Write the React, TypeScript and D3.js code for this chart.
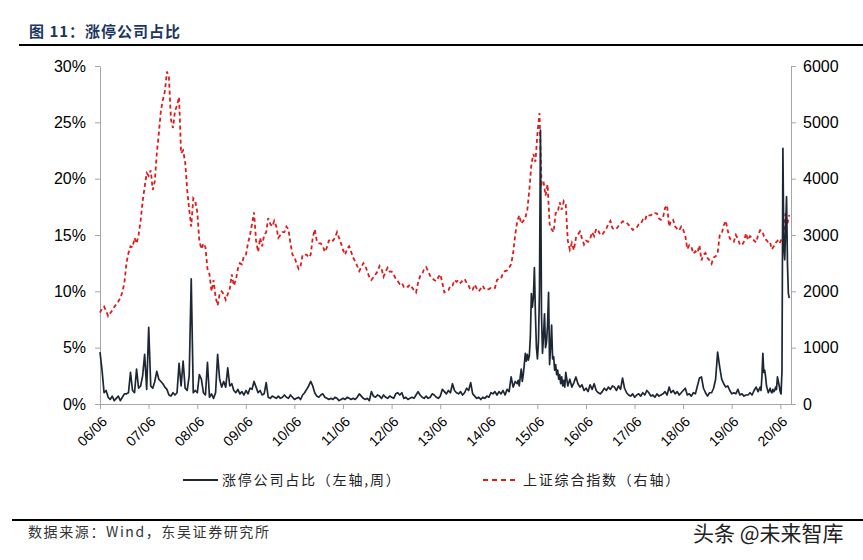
import React, { useEffect, useRef } from 'react'
import * as d3 from 'd3'

// last observation (week of 2020-08-07)
const DATA_END = new Date(2020, 7, 7)

const years = [2006, 2007, 2008, 2009, 2010, 2011, 2012, 2013, 2014, 2015, 2016, 2017, 2018, 2019, 2020]

// 涨停公司占比 (%), one row per year, spread evenly over that year
const limitUpRatio: number[][] = [
  [4.6, 3.0, 1.0, 1.2, 0.6, 0.4, 0.7, 0.3, 0.5, 0.7, 0.3, 0.6, 0.9, 0.9],
  [1.0, 2.8, 1.2, 1.0, 3.1, 1.4, 1.6, 2.5, 4.4, 1.3, 6.8, 1.6, 1.4, 2.0, 2.9, 2.2, 2.0, 1.8, 1.5, 1.3, 0.8, 0.7, 1.0, 0.8],
  [1.0, 3.6, 1.6, 3.8, 1.4, 1.2, 2.5, 11.1, 1.0, 1.2, 1.0, 2.6, 2.2, 1.0, 0.8, 3.7, 0.6, 0.9, 0.5, 1.0, 4.4, 2.2, 1.5, 2.0],
  [1.5, 3.2, 1.6, 1.8, 1.2, 1.0, 1.3, 0.9, 1.1, 0.8, 1.2, 0.9, 1.4, 1.3, 2.0, 1.5, 1.0, 1.2, 0.8, 0.9, 1.9, 0.6, 0.5, 0.7],
  [0.6, 0.5, 0.7, 0.5, 0.6, 0.8, 0.6, 0.5, 0.8, 0.6, 0.4, 0.5, 0.6, 0.4, 0.8, 1.0, 1.3, 1.6, 2.0, 1.6, 1.0, 0.7, 0.6, 0.8],
  [0.9, 0.6, 0.5, 0.4, 0.5, 0.4, 0.6, 0.5, 0.3, 0.4, 0.5, 0.4, 0.6, 0.5, 0.4, 0.5, 0.4, 0.6, 0.9, 0.7, 0.5, 0.4, 0.5, 0.3],
  [1.1, 0.7, 0.6, 0.8, 0.7, 0.5, 0.8, 0.6, 0.5, 0.7, 0.6, 0.5, 0.9, 1.0, 0.8, 1.0, 0.5, 0.6, 0.4, 0.5, 0.6, 0.5, 0.8, 1.1],
  [0.8, 0.6, 0.5, 0.7, 0.5, 0.6, 0.9, 0.8, 0.6, 0.5, 0.7, 1.3, 1.1, 0.9, 1.2, 1.0, 1.8, 1.2, 1.0, 0.9, 1.1, 0.8, 1.0, 1.4],
  [1.2, 1.9, 0.9, 0.7, 0.5, 0.6, 0.4, 0.6, 0.5, 0.7, 0.6, 1.0, 0.9, 1.1, 0.8, 1.1, 0.9, 1.2, 0.8, 1.3, 1.1, 2.4, 1.5, 2.0],
  [1.8, 2.1, 1.6, 2.4, 3.1, 2.0, 2.6, 3.5, 4.5, 3.8, 4.4, 3.9, 4.3, 6.0, 9.8, 8.6, 9.5, 12.1, 8.0, 5.0, 4.0, 5.5, 10.0, 24.3,
    8.0, 4.5, 6.0, 8.0, 5.0, 5.5, 7.0, 9.9, 3.5, 5.0, 7.0, 4.0, 4.2, 3.0, 3.5, 2.6, 3.0, 2.2, 2.6, 1.8, 2.4, 1.6, 2.1, 1.5],
  [2.8, 1.6, 2.2, 1.5, 1.9, 2.4, 1.8, 1.5, 1.7, 1.2, 1.4, 1.1, 1.7, 1.3, 1.8, 1.2, 1.0, 0.9, 1.1, 1.4, 1.2, 1.5, 1.3, 1.6],
  [1.5, 1.2, 1.6, 1.3, 2.3, 1.4, 1.0, 0.8, 0.7, 0.9, 0.6, 0.8, 0.9, 0.7, 1.0, 0.8, 1.2, 1.0, 0.7, 0.8, 0.6, 0.9, 0.7, 0.8],
  [0.9, 1.1, 0.8, 1.5, 1.0, 1.2, 0.9, 1.1, 0.8, 1.0, 1.2, 1.4, 0.8, 0.9, 0.7, 1.0, 0.9, 1.6, 2.3, 2.4, 1.4, 1.0, 0.7, 1.0],
  [1.0, 1.4, 2.2, 4.6, 3.3, 2.2, 1.8, 1.5, 1.6, 1.2, 0.9, 1.0, 0.9, 1.3, 0.8, 0.9, 0.7, 0.8, 0.8, 1.0, 0.8, 1.2, 1.5, 1.1],
  [1.5, 1.2, 2.5, 4.5, 2.8, 3.0, 2.4, 1.6, 1.3, 1.0, 1.2, 1.4, 1.1, 1.0, 1.3, 1.1, 1.2, 1.5, 1.3, 2.4, 2.0, 1.6, 1.1, 0.9,
    3.0, 22.7, 14.0, 12.8, 15.5, 18.4, 12.5, 9.8, 9.4],
]

// 上证综合指数, roughly twice a month
const shIndex: number[][] = [
  [1620, 1700, 1730, 1650, 1560, 1610, 1660, 1720, 1770, 1820, 1880, 1990, 2150, 2500],
  [2680, 2800, 2780, 2950, 2850, 3000, 3250, 3600, 3850, 4100, 4050, 4150, 3800, 3950, 4450, 4800, 5200, 5400, 5550, 5900, 5800, 5050, 4900, 5200],
  [5300, 5450, 4450, 4500, 4300, 3800, 3450, 3150, 3650, 3600, 3400, 2900, 2750, 2850, 2780, 2400, 2300, 2000, 2200, 1900, 1750, 1950, 2000, 1950],
  [1850, 1950, 2050, 2300, 2100, 2200, 2400, 2500, 2480, 2630, 2650, 2850, 3000, 3200, 3400, 2900, 2700, 2950, 2800, 3000, 3050, 3300, 3200, 3150],
  [3250, 3150, 2950, 3000, 3050, 3050, 3150, 3100, 2850, 2650, 2600, 2500, 2400, 2450, 2650, 2650, 2650, 2600, 2650, 2950, 3100, 2900, 2850, 2850],
  [2800, 2700, 2780, 2900, 2930, 2900, 2950, 3050, 2950, 2850, 2730, 2650, 2760, 2800, 2700, 2600, 2530, 2450, 2360, 2430, 2500, 2450, 2350, 2250],
  [2200, 2250, 2300, 2350, 2450, 2400, 2260, 2350, 2420, 2350, 2350, 2300, 2220, 2180, 2130, 2150, 2080, 2100, 2080, 2120, 2070, 2020, 1980, 2150],
  [2270, 2300, 2400, 2430, 2360, 2270, 2230, 2200, 2180, 2250, 2300, 2150, 1980, 2000, 2020, 2100, 2100, 2200, 2170, 2200, 2150, 2190, 2220, 2150],
  [2100, 2020, 2030, 2120, 2050, 2000, 2050, 2100, 2030, 2030, 2040, 2060, 2050, 2060, 2200, 2230, 2230, 2320, 2360, 2370, 2420, 2480, 2680, 3000],
  [3235, 3350, 3200, 3250, 3300, 3450, 3800, 4250, 4440, 4300, 4800, 5166, 3900, 3950, 3700, 3900, 3200, 3100, 3050, 3390, 3400, 3580, 3450, 3600],
  [3540, 2900, 2740, 2860, 2730, 2950, 3010, 3060, 2940, 2830, 2900, 2880, 2930, 3050, 2980, 3110, 3080, 3000, 3010, 3060, 3110, 3200, 3250, 3120],
  [3100, 3110, 3160, 3200, 3240, 3240, 3220, 3180, 3140, 3090, 3110, 3130, 3190, 3200, 3270, 3250, 3360, 3350, 3350, 3390, 3390, 3380, 3290, 3270],
  [3310, 3480, 3530, 3150, 3260, 3270, 3150, 3110, 3080, 3150, 3090, 2990, 2750, 2820, 2790, 2670, 2710, 2680, 2820, 2550, 2650, 2680, 2590, 2550],
  [2490, 2600, 2620, 2680, 2990, 3020, 3170, 3250, 3080, 2940, 2900, 2880, 3000, 2930, 2830, 2820, 2880, 3030, 2910, 2980, 2950, 2900, 2870, 3000],
  [3085, 3075, 2976, 2917, 2880, 2887, 2747, 2796, 2860, 2898, 2846, 2931, 2979, 3383, 3196, 3354],
]

const leftTicks = [0, 5, 10, 15, 20, 25, 30]
const rightTicks = [0, 1000, 2000, 3000, 4000, 5000, 6000]

type Pt = { date: Date; value: number }

// lay one year's values out evenly between its first and last date
function spreadYear(year: number, values: number[]): Pt[] {
  const start = year === 2006 ? new Date(2006, 5, 1) : new Date(year, 0, 1)
  const last = year === 2020
  const end = last ? DATA_END : new Date(year + 1, 0, 1)
  const step = (+end - +start) / (last ? values.length - 1 : values.length)
  return values.map((v, i) => ({ date: new Date(+start + step * i), value: v }))
}

const W = 863, H = 560
const plot = { left: 100, right: 791, top: 66, bottom: 404 }
const cjk = "'Noto Sans CJK SC', sans-serif"
const latin = "'Liberation Sans', Arial, sans-serif"

export default function App() {
  const ref = useRef<SVGSVGElement>(null)

  useEffect(() => {
    const svg = d3.select(ref.current)
    svg.selectAll('*').remove()

    const x = d3.scaleTime()
      .domain([new Date(2006, 5, 1), new Date(2020, 7, 20)])
      .range([plot.left, plot.right])
    const yL = d3.scaleLinear().domain([0, 30]).range([plot.bottom, plot.top])
    const yR = d3.scaleLinear().domain([0, 6000]).range([plot.bottom, plot.top])

    const ratio = years.flatMap((y, i) => spreadYear(y, limitUpRatio[i]))
    const index = years.flatMap((y, i) => spreadYear(y, shIndex[i]))

    svg.append('rect').attr('width', W).attr('height', H).attr('fill', '#fff')

    // title + rules
    svg.append('text')
      .attr('x', 29).attr('y', 37)
      .attr('font-family', cjk).attr('font-weight', 700).attr('font-size', 15)
      .attr('letter-spacing', 1)
      .attr('fill', '#1b3660')
      .text('图 11：涨停公司占比')
    svg.append('line').attr('x1', 19).attr('x2', W).attr('y1', 45).attr('y2', 45)
      .attr('stroke', '#000').attr('stroke-width', 2)
    svg.append('line').attr('x1', 12).attr('x2', W).attr('y1', 520).attr('y2', 520)
      .attr('stroke', '#000').attr('stroke-width', 2)

    const styleAxis = (g: d3.Selection<SVGGElement, unknown, null, undefined>) => {
      g.select('.domain').attr('stroke', '#a6a6a6')
      g.selectAll('.tick line').attr('stroke', '#a6a6a6')
      g.selectAll('.tick text').attr('fill', '#000').attr('font-family', latin)
    }

    const gx = svg.append('g')
      .attr('transform', `translate(0,${plot.bottom})`)
      .call(d3.axisBottom(x)
        .tickValues(years.map(y => new Date(y, 5, 1)))
        .tickFormat(d3.timeFormat('%y/%m') as any)
        .tickSize(5).tickSizeOuter(0))
    styleAxis(gx)
    gx.selectAll('.tick text')
      .attr('font-size', 14)
      .attr('x', 0).attr('y', 0).attr('dy', '0.35em')
      .attr('transform', 'translate(4,15) rotate(-45)')
      .style('text-anchor', 'end')

    const gl = svg.append('g')
      .attr('transform', `translate(${plot.left},0)`)
      .call(d3.axisLeft(yL).tickValues(leftTicks).tickFormat(d => `${d}%`).tickSize(5).tickSizeOuter(0))
    styleAxis(gl)
    gl.selectAll('.tick text').attr('font-size', 16).attr('x', -14)

    const gr = svg.append('g')
      .attr('transform', `translate(${plot.right},0)`)
      .call(d3.axisRight(yR).tickValues(rightTicks).tickFormat(d3.format('d') as any).tickSize(5).tickSizeOuter(0))
    styleAxis(gr)
    gr.selectAll('.tick text').attr('font-size', 16).attr('x', 12)

    const lineL = d3.line<Pt>().x(d => x(d.date)).y(d => yL(d.value))
    const lineR = d3.line<Pt>().x(d => x(d.date)).y(d => yR(d.value))

    svg.append('path').datum(index)
      .attr('fill', 'none').attr('stroke', '#dd1c1c').attr('stroke-width', 1.8)
      .attr('stroke-dasharray', '4 3').attr('d', lineR)

    svg.append('path').datum(ratio)
      .attr('fill', 'none').attr('stroke', '#1d2634').attr('stroke-width', 1.7)
      .attr('stroke-linejoin', 'round').attr('d', lineL)

    // legend
    const lg = svg.append('g').attr('font-family', cjk).attr('font-size', 14)
      .attr('letter-spacing', 1.8).attr('fill', '#222')
    lg.append('line').attr('x1', 183).attr('x2', 218).attr('y1', 480).attr('y2', 480)
      .attr('stroke', '#1d2634').attr('stroke-width', 2)
    lg.append('text').attr('x', 222).attr('y', 485).text('涨停公司占比（左轴,周）')
    lg.append('line').attr('x1', 483).attr('x2', 518).attr('y1', 480).attr('y2', 480)
      .attr('stroke', '#dd1c1c').attr('stroke-width', 2).attr('stroke-dasharray', '5 4')
    lg.append('text').attr('x', 523).attr('y', 485).text('上证综合指数（右轴）')

    // source + watermark
    svg.append('text').attr('x', 28).attr('y', 537)
      .attr('font-family', cjk).attr('font-size', 14).attr('letter-spacing', 1.6).attr('fill', '#333')
      .text('数据来源：Wind，东吴证券研究所')
    svg.append('text').attr('x', 693).attr('y', 541)
      .attr('font-family', cjk).attr('font-size', 21).attr('fill', '#222')
      .text('头条 @未来智库')
  }, [])

  return (
    <svg ref={ref} width={W} height={H}
      style={{ position: 'absolute', left: 0, top: 0, display: 'block' }} />
  )
}
